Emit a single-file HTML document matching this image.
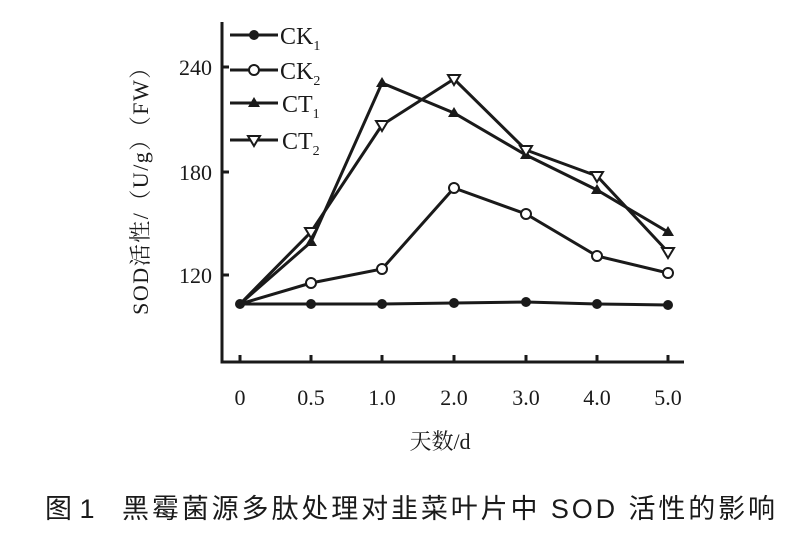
<!DOCTYPE html>
<html><head><meta charset="utf-8"><style>
body{margin:0;background:#fff;}
svg text{font-family:"Liberation Serif","Noto Serif CJK SC",serif;fill:#1a1a1a;}
</style></head><body>
<svg width="800" height="537" viewBox="0 0 800 537" xmlns="http://www.w3.org/2000/svg">
<g stroke="#1a1a1a" stroke-width="3" fill="none">
<polyline points="222,22 222,362 684,362"/>
<line x1="222" y1="67" x2="229" y2="67"/><line x1="222" y1="172" x2="229" y2="172"/><line x1="222" y1="275" x2="229" y2="275"/>
<line x1="240" y1="362" x2="240" y2="355"/><line x1="311" y1="362" x2="311" y2="355"/><line x1="382" y1="362" x2="382" y2="355"/><line x1="454" y1="362" x2="454" y2="355"/><line x1="526" y1="362" x2="526" y2="355"/><line x1="597" y1="362" x2="597" y2="355"/><line x1="668" y1="362" x2="668" y2="355"/>
<polyline points="240,304 311,304 382,304 454,303 526,302 597,304 668,305"/>
<polyline points="240,304 311,283 382,269 454,188 526,214 597,256 668,273"/>
<polyline points="240,304 311,242 382,83 454,113 526,155 597,190 668,232"/>
<polyline points="240,304 311,232 382,125 454,79 526,150 597,176 668,252"/>
<line x1="230" y1="35" x2="278" y2="35"/><line x1="230" y1="70" x2="278" y2="70"/><line x1="230" y1="103" x2="278" y2="103"/><line x1="230" y1="140" x2="278" y2="140"/>
</g>
<g fill="#1a1a1a">
<circle cx="240" cy="304" r="5"/><circle cx="311" cy="304" r="5"/><circle cx="382" cy="304" r="5"/><circle cx="454" cy="303" r="5"/><circle cx="526" cy="302" r="5"/><circle cx="597" cy="304" r="5"/><circle cx="668" cy="305" r="5"/><circle cx="254" cy="35" r="5"/>
</g>
<g fill="#fff" stroke="#1a1a1a" stroke-width="2">
<circle cx="311" cy="283" r="5"/><circle cx="382" cy="269" r="5"/><circle cx="454" cy="188" r="5"/><circle cx="526" cy="214" r="5"/><circle cx="597" cy="256" r="5"/><circle cx="668" cy="273" r="5"/><circle cx="254" cy="70" r="5"/>
</g>
<g fill="#1a1a1a">
<path d="M311,236 l6,10 h-12z"/><path d="M382,77 l6,10 h-12z"/><path d="M454,107 l6,10 h-12z"/><path d="M526,149 l6,10 h-12z"/><path d="M597,184 l6,10 h-12z"/><path d="M668,226 l6,10 h-12z"/><path d="M254,97 l6,10 h-12z"/>
</g>
<g fill="#fff" stroke="#1a1a1a" stroke-width="2">
<path d="M311,238 l6,-10 h-12z"/><path d="M382,131 l6,-10 h-12z"/><path d="M454,85 l6,-10 h-12z"/><path d="M526,156 l6,-10 h-12z"/><path d="M597,182 l6,-10 h-12z"/><path d="M668,258 l6,-10 h-12z"/><path d="M254,146 l6,-10 h-12z"/>
</g>
<g font-size="24">
<text x="280" y="44">CK<tspan font-size="14" dy="6">1</tspan></text>
<text x="280" y="79">CK<tspan font-size="14" dy="6">2</tspan></text>
<text x="282" y="112">CT<tspan font-size="14" dy="6">1</tspan></text>
<text x="282" y="149">CT<tspan font-size="14" dy="6">2</tspan></text>
</g>
<g font-size="22" text-anchor="end">
<text x="212" y="75">240</text><text x="212" y="180">180</text><text x="212" y="283">120</text>
</g>
<g font-size="22" text-anchor="middle">
<text x="240" y="405">0</text><text x="311" y="405">0.5</text><text x="382" y="405">1.0</text><text x="454" y="405">2.0</text><text x="526" y="405">3.0</text><text x="597" y="405">4.0</text><text x="668" y="405">5.0</text>
<text x="440" y="449">天数/d</text>
<text x="148" y="185" font-size="22" letter-spacing="1.5" transform="rotate(-90 148 185)">SOD活性/（U/g）（FW）</text>
</g>
<text x="45" y="518" font-size="27" style="font-family:'Liberation Sans','Noto Sans CJK SC',sans-serif">图 1</text>
<text x="122" y="518" font-size="27" textLength="653" lengthAdjust="spacing" style="font-family:'Liberation Sans','Noto Sans CJK SC',sans-serif">黑霉菌源多肽处理对韭菜叶片中 SOD 活性的影响</text>
</svg>
</body></html>
